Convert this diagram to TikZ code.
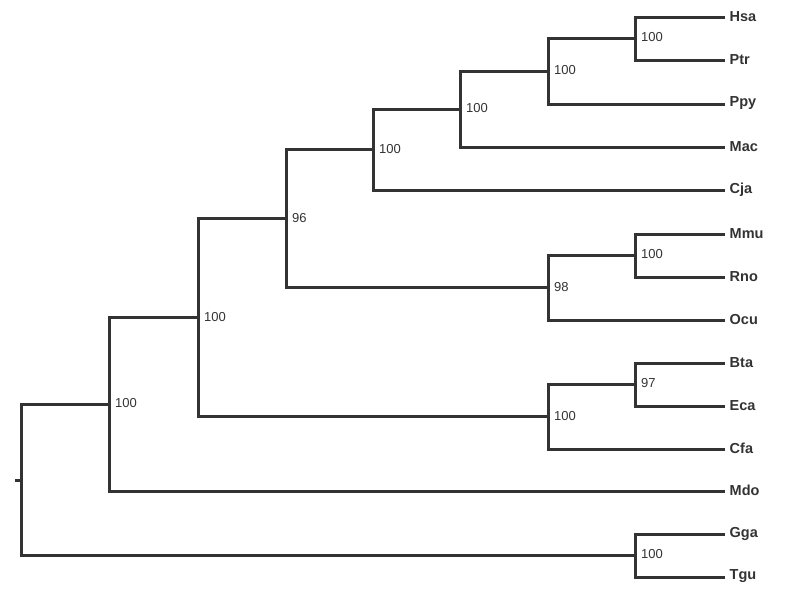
\documentclass[tikz,border=0pt]{standalone}
\usepackage{fontspec}
\setmainfont{Liberation Sans}
\definecolor{tree}{HTML}{333333}
\begin{document}
\begin{tikzpicture}[x=1pt,y=-1pt,
  branch/.style={draw=tree,line width=3pt,line cap=rect},
  leaf/.style={anchor=west,inner sep=0pt,font=\fontsize{14.5}{14.5}\selectfont\bfseries,text=tree},
  boot/.style={anchor=west,inner sep=0pt,font=\fontsize{13}{13}\selectfont,text=tree}]
\useasboundingbox (0,0) rectangle (785,600);
% leaves (end points of branches)
\coordinate (lHsa) at (723,17);
\coordinate (lPtr) at (723,60);
\coordinate (lPpy) at (723,104);
\coordinate (lMac) at (723,147);
\coordinate (lCja) at (723,190);
\coordinate (lMmu) at (723,234);
\coordinate (lRno) at (723,277);
\coordinate (lOcu) at (723,320);
\coordinate (lBta) at (723,363);
\coordinate (lEca) at (723,406);
\coordinate (lCfa) at (723,449);
\coordinate (lMdo) at (723,491);
\coordinate (lGga) at (723,534);
\coordinate (lTgu) at (723,577);
\foreach \n in {Hsa,Ptr,Ppy,Mac,Cja,Mmu,Rno,Ocu,Bta,Eca,Cfa,Mdo,Gga,Tgu}
  \node[leaf] (t\n) at ([xshift=6.5pt,yshift=0.5pt]l\n) {\n};
% internal nodes
\coordinate (nHP) at (635,38.5);
\coordinate (nHPP) at (548,71.25);
\coordinate (nHPPM) at (460,109.1);
\coordinate (nPri) at (373,149.6);
\coordinate (nMR) at (635,255.5);
\coordinate (nMRO) at (548,287.75);
\coordinate (nEua) at (286,218.7);
\coordinate (nBE) at (635,384.5);
\coordinate (nBEC) at (548,416.75);
\coordinate (nPla) at (198,317.7);
\coordinate (nMam) at (109,404.4);
\coordinate (nGT) at (635,555.5);
\coordinate (nRoot) at (21,480);
\coordinate (stub) at (15,480);
% branches
\draw[branch] (nHP) |- (lHsa) (nHP) |- (lPtr);
\draw[branch] (nHPP) |- (nHP) (nHPP) |- (lPpy);
\draw[branch] (nHPPM) |- (nHPP) (nHPPM) |- (lMac);
\draw[branch] (nPri) |- (nHPPM) (nPri) |- (lCja);
\draw[branch] (nMR) |- (lMmu) (nMR) |- (lRno);
\draw[branch] (nMRO) |- (nMR) (nMRO) |- (lOcu);
\draw[branch] (nEua) |- (nPri) (nEua) |- (nMRO);
\draw[branch] (nBE) |- (lBta) (nBE) |- (lEca);
\draw[branch] (nBEC) |- (nBE) (nBEC) |- (lCfa);
\draw[branch] (nPla) |- (nEua) (nPla) |- (nBEC);
\draw[branch] (nMam) |- (nPla) (nMam) |- (lMdo);
\draw[branch] (nGT) |- (lGga) (nGT) |- (lTgu);
\draw[branch] (nRoot) |- (nMam) (nRoot) |- (nGT);
\draw[branch,line cap=butt] (stub) -- (nRoot);
% bootstrap values
\node[boot] (bHP) at ([xshift=6pt,yshift=1pt]nHP) {100};
\node[boot] (bHPP) at ([xshift=6pt,yshift=1pt]nHPP) {100};
\node[boot] (bHPPM) at ([xshift=6pt,yshift=1pt]nHPPM) {100};
\node[boot] (bPri) at ([xshift=6pt,yshift=1pt]nPri) {100};
\node[boot] (bMR) at ([xshift=6pt,yshift=1pt]nMR) {100};
\node[boot] (bMRO) at ([xshift=6pt,yshift=1pt]nMRO) {98};
\node[boot] (bEua) at ([xshift=6pt,yshift=1pt]nEua) {96};
\node[boot] (bBE) at ([xshift=6pt,yshift=1pt]nBE) {97};
\node[boot] (bBEC) at ([xshift=6pt,yshift=1pt]nBEC) {100};
\node[boot] (bPla) at ([xshift=6pt,yshift=1pt]nPla) {100};
\node[boot] (bMam) at ([xshift=6pt,yshift=1pt]nMam) {100};
\node[boot] (bGT) at ([xshift=6pt,yshift=1pt]nGT) {100};
\end{tikzpicture}
\end{document}
